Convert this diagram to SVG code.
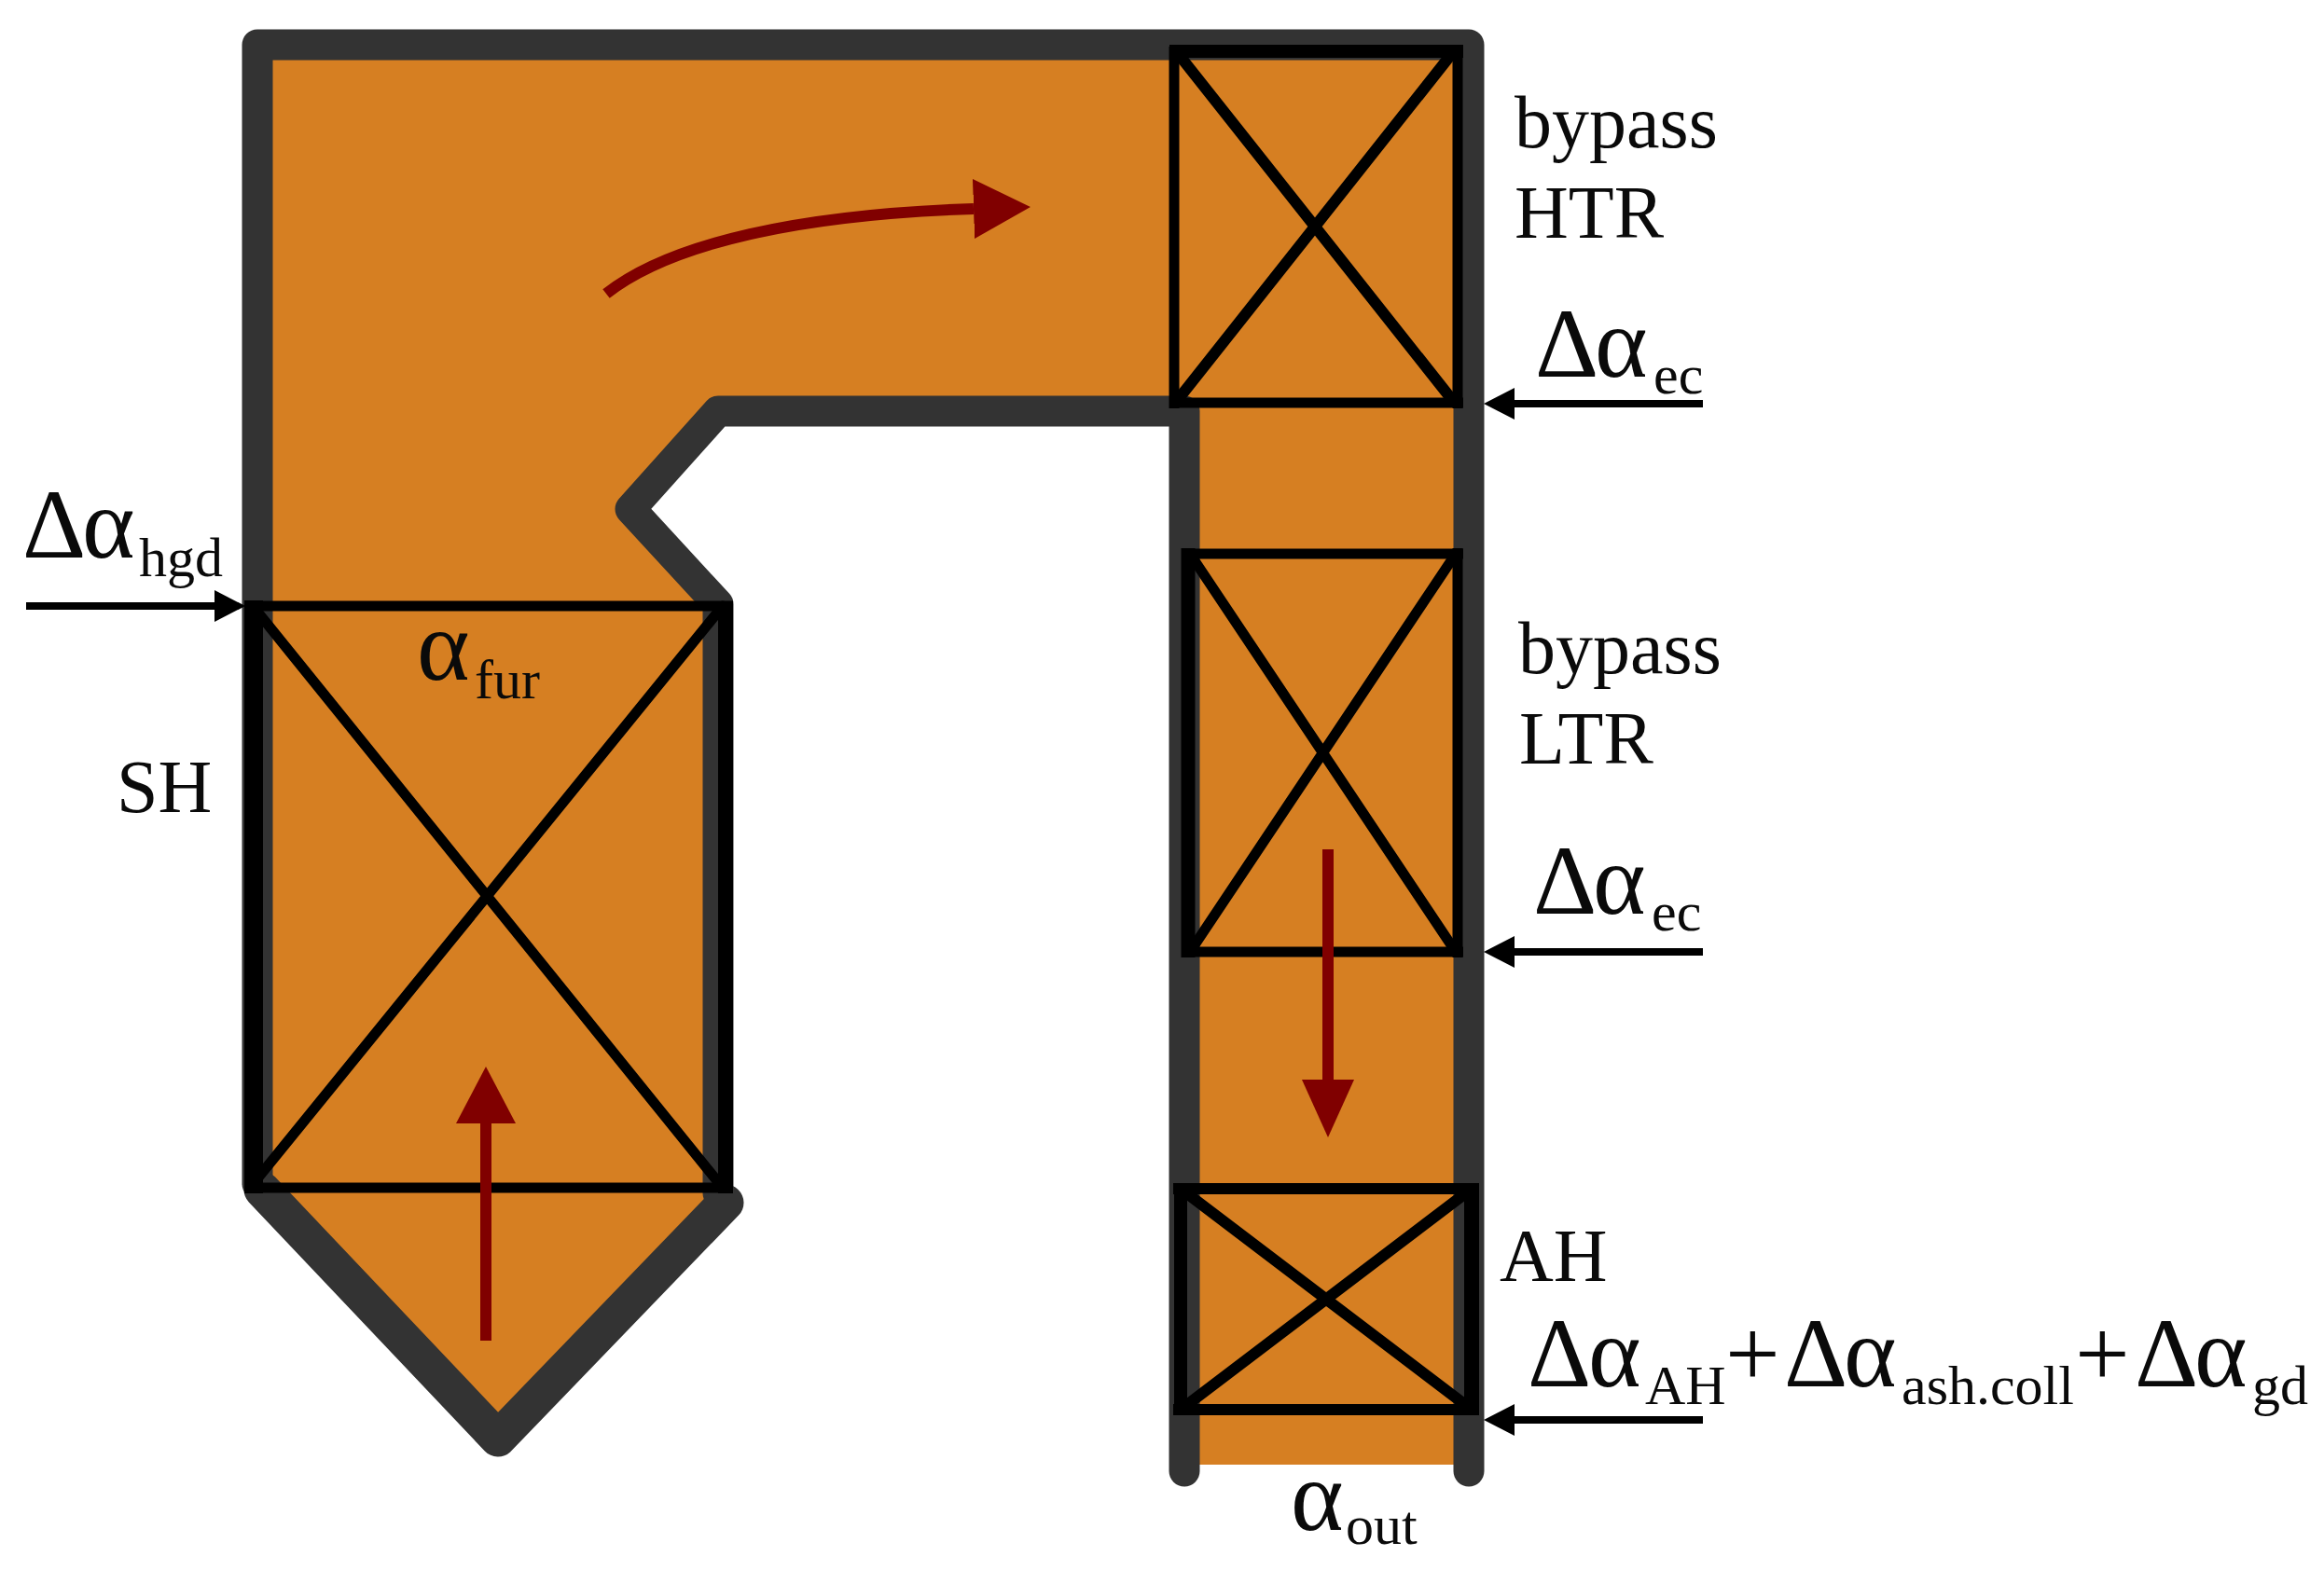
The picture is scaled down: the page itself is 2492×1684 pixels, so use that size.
<svg xmlns="http://www.w3.org/2000/svg" width="2492" height="1684" viewBox="0 0 2492 1684">
<style>
text{font-family:"Liberation Serif","Times New Roman",serif;fill:#0a0a0a}
.lb{font-size:80px}
.d{font-size:106px}
.a{font-size:108px}
.s{font-size:60px}
.p{font-size:104px}
.k{fill:none;stroke:#000;stroke-linecap:butt}
.x{stroke:#000;fill:none;stroke-linecap:round}
.wall{fill:none;stroke:#333;stroke-linejoin:round;stroke-linecap:round}
.arrow{fill:none;stroke:#000;stroke-width:8}
.flow{fill:none;stroke:#800000;stroke-width:12}
</style>
<defs>
<marker id="hk" markerUnits="userSpaceOnUse" markerWidth="36" markerHeight="36" refX="0" refY="17" orient="auto"><path d="M0 0L33 17L0 34Z" fill="#000"/></marker>
<marker id="hr" markerUnits="userSpaceOnUse" markerWidth="64" markerHeight="66" refX="0" refY="32" orient="auto"><path d="M0 0L61 32L0 64Z" fill="#800000"/></marker>
<marker id="hd" markerUnits="userSpaceOnUse" markerWidth="64" markerHeight="58" refX="0" refY="28" orient="auto"><path d="M0 0L62 28L0 56Z" fill="#800000"/></marker>
</defs>
<rect width="2492" height="1684" fill="#fff"/>
<g id="boiler">
<path d="M276 48H1575V1571H1270V441H770L676 546L770 648V1285L534 1540L276 1270Z" fill="#d67f22"/>
<path class="wall" d="M1270 1578V441H770L676 546L770 648V1280" stroke-width="33"/>
<path class="wall" d="M276 1270V48H1575V1578" stroke-width="33"/>
<path class="wall" d="M281 1276L534 1543L778 1290" stroke-width="39"/>
</g>
<g id="sh">
<path class="k" d="M272 644V1280" stroke-width="20"/>
<path class="k" d="M778 646V1280" stroke-width="16"/>
<path class="k" d="M266 650H786M262 1274H786" stroke-width="11"/>
<path class="x" d="M271 650L775 1274M775 650L268 1274" stroke-width="11"/>
</g>
<g id="htr">
<path class="k" d="M1259 50V438M1563 50V438" stroke-width="11"/>
<path class="k" d="M1254 432H1569" stroke-width="11"/>
<path class="k" d="M1254 55H1569" stroke-width="14"/>
<path class="x" d="M1262 56L1558 430M1558 56L1262 430" stroke-width="12"/>
</g>
<g id="ltr">
<path class="k" d="M1274 588V1027" stroke-width="15"/>
<path class="k" d="M1563 588V1027" stroke-width="11"/>
<path class="k" d="M1267 594H1569M1267 1021H1569" stroke-width="11"/>
<path class="x" d="M1276 594L1561 1021M1561 594L1276 1021" stroke-width="11"/>
</g>
<g id="ah">
<path class="k" d="M1266 1275V1512" stroke-width="14"/>
<path class="k" d="M1578 1275V1512" stroke-width="16"/>
<path class="k" d="M1258 1275H1586M1258 1512H1586" stroke-width="12" stroke-linecap="round"/>
<path class="x" d="M1266 1275L1578 1512M1578 1275L1266 1512" stroke-width="12"/>
</g>
<g id="connectors">
<path class="arrow" d="M28 650H230" marker-end="url(#hk)"/>
<path class="arrow" d="M1826 433H1624" marker-end="url(#hk)"/>
<path class="arrow" d="M1826 1021H1624" marker-end="url(#hk)"/>
<path class="arrow" d="M1826 1523H1624" marker-end="url(#hk)"/>
<path class="flow" d="M650 315C720 260 860 230 1044 224" marker-end="url(#hr)"/>
<path class="flow" d="M521 1438V1205" marker-end="url(#hr)"/>
<path class="flow" d="M1424 911V1158" marker-end="url(#hd)"/>
</g>
<g id="labels">
<text class="lb" x="1624" y="158">bypass</text>
<text class="lb" x="1624" y="255">HTR</text>
<text class="lb" x="1628" y="722">bypass</text>
<text class="lb" x="1629" y="819">LTR</text>
<text class="lb" x="1608" y="1374">AH</text>
<text class="lb" x="125" y="871">SH</text>
<text><tspan class="d" x="24" y="598">Δ</tspan><tspan class="a" x="88" y="598">α</tspan><tspan class="s" x="149" y="618">hgd</tspan></text>
<text><tspan class="a" x="447" y="729">α</tspan><tspan class="s" x="509" y="749">fur</tspan></text>
<text><tspan class="d" x="1646" y="404">Δ</tspan><tspan class="a" x="1710" y="404">α</tspan><tspan class="s" x="1773" y="422">ec</tspan></text>
<text><tspan class="d" x="1644" y="980">Δ</tspan><tspan class="a" x="1708" y="980">α</tspan><tspan class="s" x="1771" y="998">ec</tspan></text>
<text><tspan class="a" x="1384" y="1641">α</tspan><tspan class="s" x="1443" y="1656">out</tspan></text>
<text><tspan class="d" x="1638" y="1487">Δ</tspan><tspan class="a" x="1703" y="1487">α</tspan><tspan class="s" x="1764" y="1506">AH</tspan><tspan class="p" x="1850" y="1487">+</tspan><tspan class="d" x="1913" y="1487">Δ</tspan><tspan class="a" x="1977" y="1487">α</tspan><tspan class="s" x="2039" y="1506">ash.coll</tspan><tspan class="p" x="2225" y="1487">+</tspan><tspan class="d" x="2289" y="1487">Δ</tspan><tspan class="a" x="2353" y="1487">α</tspan><tspan class="s" x="2415" y="1506">gd</tspan></text>
</g>
</svg>
